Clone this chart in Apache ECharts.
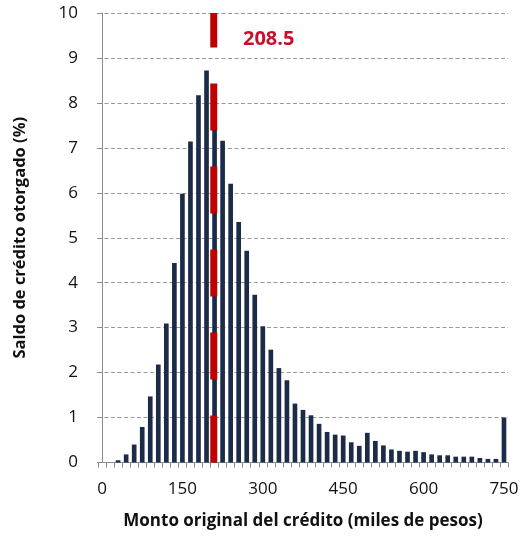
<!DOCTYPE html>
<html><head><meta charset="utf-8">
<script src="https://cdn.jsdelivr.net/npm/echarts@6/dist/echarts.min.js"></script>
<style>html,body{margin:0;padding:0;background:#fff}#c{width:522px;height:537px}</style>
</head><body><div id="c"></div>
<script>
const categories = ['0','15','30','45','60','75','90','105','120','135','150','165','180','195','210','225','240','255','270','285','300','315','330','345','360','375','390','405','420','435','450','465','480','495','510','525','540','555','570','585','600','615','630','645','660','675','690','705','720','735','750'];
const saldo = [0,0,0.05,0.18,0.40,0.79,1.47,2.18,3.09,4.44,5.98,7.14,8.17,8.72,8.30,7.16,6.20,5.35,4.71,3.73,3.03,2.51,2.10,1.83,1.31,1.17,1.05,0.86,0.68,0.62,0.60,0.45,0.37,0.66,0.48,0.38,0.29,0.26,0.24,0.26,0.23,0.18,0.16,0.16,0.13,0.13,0.13,0.10,0.08,0.08,1.00];
const yTicks = [0,1,2,3,4,5,6,7,8,9,10];
const medianValue = 208.5;
const medianLabel = '208.5';

const font = '"Open Sans", sans-serif';
const axisGray = '#8c8c8c';
const chart = echarts.init(document.getElementById('c'));
chart.setOption({
  animation: false,
  grid: {left: 98, right: 14, top: 13, bottom: 74.5},
  xAxis: [{
    type: 'category', data: categories, boundaryGap: true,
    axisLine: {lineStyle: {color: axisGray, width: 1}},
    axisTick: {show: true, interval: 0, length: 5, lineStyle: {color: axisGray}},
    axisLabel: {interval: 9, margin: 18, fontSize: 17, color: '#111', fontFamily: font},
    name: 'Monto original del crédito (miles de pesos)', nameLocation: 'middle', nameGap: 50,
    nameTextStyle: {fontSize: 17, fontWeight: 'bold', color: '#111', fontFamily: font}
  }, {
    type: 'value', min: -7.5, max: 757.5, show: false
  }],
  yAxis: [{
    type: 'value', min: yTicks[0], max: yTicks[yTicks.length-1], interval: 1,
    axisLine: {show: true, lineStyle: {color: axisGray}},
    axisTick: {show: true, length: 5, lineStyle: {color: axisGray}},
    axisLabel: {margin: 20, fontSize: 17, color: '#111', fontFamily: font},
    splitLine: {show: true, lineStyle: {color: '#999999', type: [4,2.5], width: 1}},
    name: 'Saldo de crédito otorgado (%)', nameLocation: 'middle', nameGap: 69,
    nameTextStyle: {fontSize: 16.5, fontWeight: 'bold', color: '#111', fontFamily: font}
  }, {
    type: 'value', min: yTicks[0], max: yTicks[yTicks.length-1], interval: 1, position: 'left',
    axisLine: {show: false},
    axisTick: {show: true, inside: true, length: 5, lineStyle: {color: axisGray}},
    axisLabel: {show: false}, splitLine: {show: false}
  }],
  series: [{
    type: 'bar', data: saldo, barCategoryGap: '42%',
    itemStyle: {color: '#1b2b48'}, z: 2
  }, {
    type: 'line', xAxisIndex: 1, yAxisIndex: 0,
    data: [[medianValue, yTicks[0]], [medianValue, yTicks[yTicks.length-1]]],
    symbol: 'none', z: 5,
    lineStyle: {color: '#c00000', width: 7, type: [47,36], cap: 'butt'}
  }],
  graphic: [{
    type: 'text', left: 243, top: 29,
    style: {text: medianLabel, fill: '#c8102e', font: 'bold 20px "Open Sans", sans-serif'}
  }]
});
</script>
</body></html>
